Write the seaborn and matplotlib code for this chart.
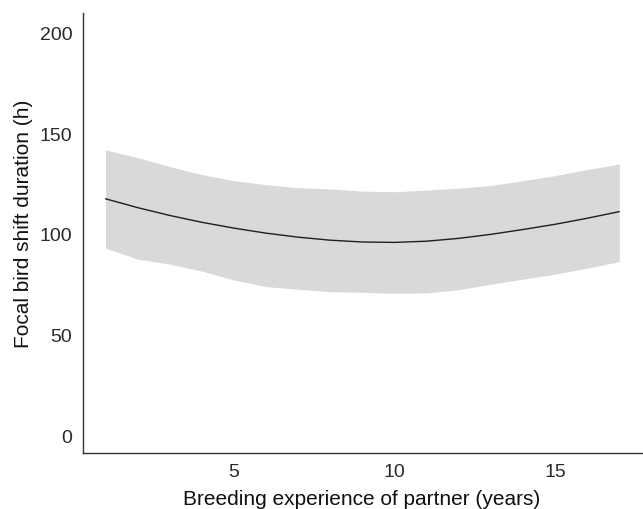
import numpy as np
import pandas as pd
import matplotlib
matplotlib.use("Agg")
import matplotlib.pyplot as plt
import seaborn as sns

# Data
experience = [1, 2, 3, 4, 5, 6, 7, 8, 9, 10, 11, 12, 13, 14, 15, 16, 17]
fitted = [118.0, 113.6, 109.7, 106.3, 103.4, 100.9, 98.9, 97.4, 96.5, 96.3,
          96.9, 98.3, 100.3, 102.7, 105.3, 108.3, 111.6]
upper = [142.3, 138.5, 134.0, 130.0, 127.0, 125.0, 123.5, 122.9, 121.8, 121.5,
         122.3, 123.3, 124.6, 127.0, 129.5, 132.5, 135.3]
lower = [93.4, 88.0, 85.5, 82.0, 77.6, 74.3, 73.0, 71.8, 71.5, 71.0,
         71.2, 72.8, 75.5, 78.0, 80.5, 83.5, 86.7]
y_ticks = [0, 50, 100, 150, 200]
x_ticks = [5, 10, 15]

df = pd.DataFrame({"x": experience, "y": fitted, "lo": lower, "hi": upper})

sns.set_style("white")
plt.rcParams["font.family"] = ["Liberation Sans", "DejaVu Sans"]

fig = plt.figure(figsize=(6.43, 5.09), dpi=100)
ax = fig.add_axes([0.1286, 0.1094, 0.8714, 0.8651])

ax.fill_between(df["x"], df["lo"], df["hi"], color="#d9d9d9", linewidth=0)
sns.lineplot(data=df, x="x", y="y", ax=ax, color="#1e1e1e", linewidth=1.0)

ax.set_xlim(0.29, 17.74)
ax.set_ylim(-8.6, 210.4)
ax.set_xticks(x_ticks)
ax.set_yticks(y_ticks)
ax.tick_params(axis="both", length=0, labelsize=14, labelcolor="#2a2a2a")
ax.tick_params(axis="x", pad=8)
ax.tick_params(axis="y", pad=7.5)

for side in ["top", "right"]:
    ax.spines[side].set_visible(False)
for side in ["left", "bottom"]:
    ax.spines[side].set_color("#333333")
    ax.spines[side].set_linewidth(1.0)

ax.set_xlabel("Breeding experience of partner (years)", fontsize=15,
              color="#111111")
ax.set_ylabel("Focal bird shift duration (h)", fontsize=15,
              color="#111111")
ax.xaxis.set_label_coords(0.4985, -0.083)
ax.yaxis.set_label_coords(-0.089, 0.522)

fig.savefig("out.png", dpi=100)
